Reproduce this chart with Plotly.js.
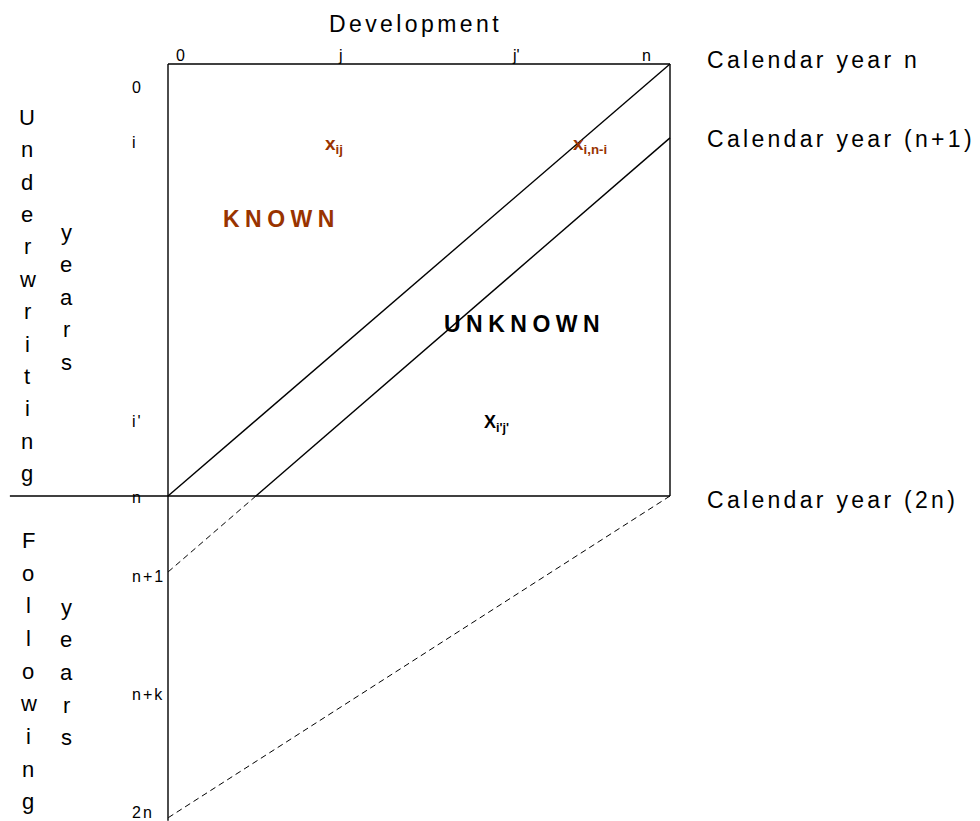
<!DOCTYPE html>
<html><head><meta charset="utf-8">
<script src="https://cdn.plot.ly/plotly-3.0.1.min.js"></script>
<style>html,body{margin:0;padding:0;background:#fff}</style>
</head><body>
<div id="chart" style="width:980px;height:821px"></div>
<script>
// ---- data (development / year units; n = 10) ----
const n = 10;
const colLabels = ['0', 'j', "j'", 'n'];
const colLabelPos = [0.24, 3.43, 6.93, 9.54];
const rowLabels = ['0', 'i', "i'", 'n', 'n+1', 'n+k', '2n'];
const rowLabelPos = [0.54, 1.82, 8.28, 10.03, 11.86, 14.59, 17.33];
const calN1Right = 1.71;   // row where calendar year (n+1) meets column n
const calN1Left = 11.76;   // row where calendar year (n+1) meets column 0
const cal2nLeft = 17.45;   // row where calendar year (2n) meets column 0
const followEnd = 17.52;   // end of following-years axis
const sepStart = -3.15;    // left end of separator line
const calendarLabels = ['Calendar year n', 'Calendar year (n+1)', 'Calendar year (2n)'];
const wordUnder = 'Underwriting', wordFollow = 'Following', wordYears = 'years';

// ---- layout helpers ----
const W = 980, H = 821;
const FONT = 'Liberation Sans, Arial, sans-serif';
const BROWN = '#993300';
const px = v => v / W, py = v => 1 - v / H;
const sp = (t, ls) => `<span style="letter-spacing:${ls}px">${t}</span>`;

const line = (x, y, dash, w) => ({
  type: 'scatter', mode: 'lines', x, y, hoverinfo: 'skip', showlegend: false,
  line: {color: '#000', width: w || 1.4, dash: dash || 'solid'}
});

// intersection of calendar year (n+1) with row n
const xCross = n * (calN1Left - n) / (calN1Left - calN1Right);

const traces = [
  line([0, n], [0, 0]),
  line([n, n], [0, n]),
  line([sepStart, n], [n, n]),
  line([0, 0], [0, followEnd]),
  line([0, n], [n, 0]),
  line([n, xCross], [calN1Right, n]),
  line([xCross, 0], [n, calN1Left], '6px,4px', 1),
  line([n, 0], [n, cal2nLeft], '6px,4px', 1)
];

const ann = [];
const A = (o) => ann.push(Object.assign({showarrow: false, borderpad: 0}, o));

// column labels
colLabels.forEach((t, k) => A({xref: 'x', yref: 'paper', x: colLabelPos[k], y: py(55.5),
  xanchor: 'center', yanchor: 'middle', text: t, font: {family: FONT, size: 16, color: '#000'}}));
// row labels
rowLabels.forEach((t, k) => A({xref: 'paper', yref: 'y', x: px(131), y: rowLabelPos[k],
  xanchor: 'left', yanchor: 'middle', text: sp(t, 2), font: {family: FONT, size: 16, color: '#000'}}));

// titles
A({xref: 'paper', yref: 'paper', x: px(328), y: py(24), xanchor: 'left', yanchor: 'middle',
  text: sp('Development', 3.4), font: {family: FONT, size: 23, color: '#000'}});
const calY = [60, 139, 500];
calendarLabels.forEach((t, k) => A({xref: 'paper', yref: 'paper', x: px(706), y: py(calY[k]),
  xanchor: 'left', yanchor: 'middle', text: sp(t, 3.3), font: {family: FONT, size: 23, color: '#000'}}));

// region labels
A({xref: 'paper', yref: 'paper', x: px(222), y: py(219), xanchor: 'left', yanchor: 'middle',
  text: '<b>' + sp('KNOWN', 5.5) + '</b>', font: {family: FONT, size: 23, color: BROWN}});
A({xref: 'paper', yref: 'paper', x: px(443), y: py(324), xanchor: 'left', yanchor: 'middle',
  text: '<b>' + sp('UNKNOWN', 5.5) + '</b>', font: {family: FONT, size: 23, color: '#000'}});

// cell labels
A({xref: 'paper', yref: 'paper', x: px(324), y: py(145), xanchor: 'left', yanchor: 'middle',
  text: '<b>x<sub>ij</sub></b>', font: {family: FONT, size: 19, color: BROWN}});
A({xref: 'paper', yref: 'paper', x: px(572), y: py(145), xanchor: 'left', yanchor: 'middle',
  text: '<b>x<sub>i,n-i</sub></b>', font: {family: FONT, size: 19, color: BROWN}});
A({xref: 'paper', yref: 'paper', x: px(483), y: py(423), xanchor: 'left', yanchor: 'middle',
  text: "<b>X<sub>i'j'</sub></b>", font: {family: FONT, size: 18, color: '#000'}});

// vertical words, one letter per line
const FS = 22, off = 0.3465 * FS;
const vword = (word, cx, firstBase, step) => word.split('').forEach((ch, k) =>
  A({xref: 'paper', yref: 'paper', x: px(cx), y: py(firstBase + k * step - off),
     xanchor: 'center', yanchor: 'middle', text: ch, font: {family: FONT, size: FS, color: '#000'}}));
vword(wordUnder, 27, 125, 32.4);
vword(wordYears, 66, 240, 32.5);
vword(wordFollow, 28, 548, 32.7);
vword(wordYears, 66, 615, 32.6);

const layout = {
  width: W, height: H, margin: {l: 0, r: 0, t: 0, b: 0},
  paper_bgcolor: '#fff', plot_bgcolor: '#fff', showlegend: false,
  xaxis: {visible: false, range: [-168 / 50.2, (980 - 168) / 50.2], fixedrange: true},
  yaxis: {visible: false, range: [(821 - 64) / 43.2, -64 / 43.2], fixedrange: true},
  annotations: ann
};
Plotly.newPlot('chart', traces, layout, {displayModeBar: false, staticPlot: true});
</script>
</body></html>
